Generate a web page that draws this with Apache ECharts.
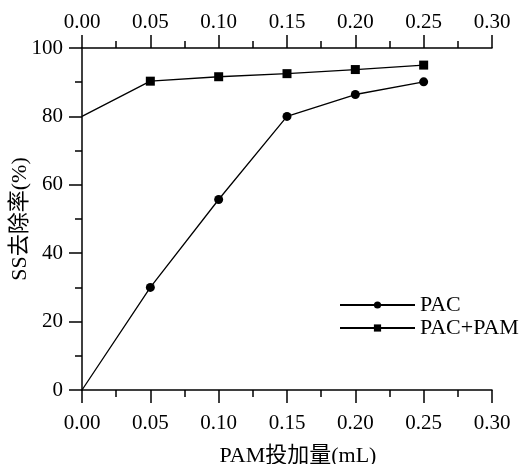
<!DOCTYPE html>
<html><head><meta charset="utf-8">
<script src="https://cdn.jsdelivr.net/npm/echarts@6/dist/echarts.min.js"></script>
<style>html,body{margin:0;padding:0;background:#fff}#c{width:523px;height:464px}</style>
</head><body><div id="c"></div>
<script>
var xValues = [0, 0.05, 0.10, 0.15, 0.20, 0.25];
var pac = [0, 30, 55.7, 80, 86.4, 90.1];
var pacPam = [80, 90.3, 91.6, 92.5, 93.7, 95.0];
var seriesNames = ['PAC', 'PAC+PAM'];
var xName = 'PAM投加量(mL)';
var yName = 'SS去除率(%)';

var font = '"Liberation Serif","Times New Roman","Noto Sans CJK SC",serif';
function pairs(v){
  return xValues.map(function(x,i){
    var d = {value: [x, v[i]]};
    if (i === 0) d.symbol = 'none';
    return d;
  });
}
var chart = echarts.init(document.getElementById('c'));
var axisCommon = {
  type: 'value', min: 0, max: 0.3, interval: 0.05,
  axisLine: {show: true, lineStyle: {color: '#000', width: 1.5}},
  axisTick: {show: true, length: 13, lineStyle: {color: '#000', width: 1.5}},
  minorTick: {show: true, splitNumber: 2, length: 7, lineStyle: {color: '#000', width: 1.5}},
  splitLine: {show: false},
  axisLabel: {color: '#000', fontFamily: font, fontSize: 21, formatter: function(v){return v.toFixed(2);}}
};
chart.setOption({
  animation: false,
  grid: {left: 82, right: 31, top: 48, bottom: 74, outerBoundsMode: 'none'},
  legend: {
    orient: 'vertical', left: 334, top: 289, itemWidth: 75, itemHeight: 9, itemGap: 1,
    textStyle: {color: '#000', fontFamily: font, fontSize: 22},
    data: seriesNames
  },
  xAxis: [
    Object.assign({}, axisCommon, {position: 'bottom', name: xName, nameLocation: 'middle', nameGap: 55,
      nameMoveOverlap: false,
      nameTextStyle: {color: '#000', fontFamily: font, fontSize: 22, padding: [0,0,0,22]},
      axisLabel: Object.assign({}, axisCommon.axisLabel, {margin: 23})}),
    Object.assign({}, axisCommon, {position: 'top',
      axisLabel: Object.assign({}, axisCommon.axisLabel, {margin: 15})})
  ],
  yAxis: {
    type: 'value', min: 0, max: 100, interval: 20,
    name: yName, nameLocation: 'middle', nameGap: 51, nameMoveOverlap: false,
    nameTextStyle: {color: '#000', fontFamily: font, fontSize: 22},
    axisLine: {show: true, lineStyle: {color: '#000', width: 1.5}},
    axisTick: {show: true, length: 13, lineStyle: {color: '#000', width: 1.5}},
    minorTick: {show: true, splitNumber: 2, length: 7, lineStyle: {color: '#000', width: 1.5}},
    splitLine: {show: false},
    axisLabel: {color: '#000', fontFamily: font, fontSize: 21, margin: 19}
  },
  series: [
    {name: seriesNames[0], type: 'line', data: pairs(pac), symbol: 'circle', symbolSize: 9,
     lineStyle: {color: '#000', width: 1.3}, itemStyle: {color: '#000'}},
    {name: seriesNames[1], type: 'line', data: pairs(pacPam), symbol: 'rect', symbolSize: 9,
     lineStyle: {color: '#000', width: 1.3}, itemStyle: {color: '#000'}}
  ]
});
</script></body></html>
